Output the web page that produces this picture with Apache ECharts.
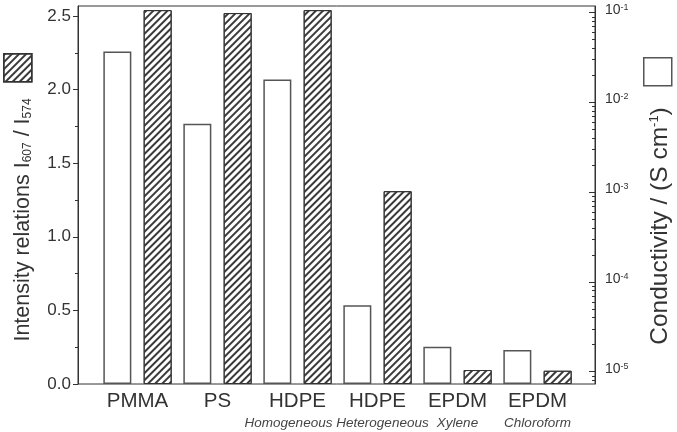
<!DOCTYPE html>
<html>
<head>
<meta charset="utf-8">
<script src="https://cdn.jsdelivr.net/npm/echarts@6/dist/echarts.min.js"></script>
<style>
  html, body { margin: 0; padding: 0; background: #fff; }
  #chart { width: 677px; height: 432px; }
</style>
</head>
<body>
<div id="chart"></div>
<script>
// samples on the x axis
const samples = ['PMMA', 'PS', 'HDPE', 'HDPE', 'EPDM', 'EPDM']
const sampleNotes = ['', '', 'Homogeneous', 'Heterogeneous', 'Xylene', 'Chloroform']
// hatched bars, left axis
const intensityRatio = [2.54, 2.52, 2.54, 1.31, 0.095, 0.09]
// white bars, right log axis (S/cm)
const conductivity = [3.7e-2, 5.8e-3, 1.8e-2, 5.5e-5, 1.9e-5, 1.75e-5]
// tick labels
const intensityTicks = [0, 0.5, 1.0, 1.5, 2.0, 2.5]
const intensityMinorTicks = [0.25, 0.75, 1.25, 1.75, 2.25]
const conductivityTicks = [1e-5, 1e-4, 1e-3, 1e-2, 1e-1]

const leftMax = 2.568
const logMin = Math.pow(10, -5.137)
const logMax = Math.pow(10, -0.925)
const logMinorTicks = []
conductivityTicks.concat([1e-6]).forEach(d => {
  for (let k = 2; k <= 9; k++) {
    const v = d * k
    if (v > logMin && v < logMax) logMinorTicks.push(v)
  }
})

const font = 'Liberation Sans, Arial, sans-serif'
const categories = samples.map((s, i) => s + ' ' + sampleNotes[i])
// the two middle notes are nudged apart like in the original
const noteStyle = ['b', 'b', 'bl', 'br', 'b', 'b']
const hatch = {
  color: '#3a3a3a',
  symbol: 'rect',
  symbolSize: 1,
  dashArrayX: [1, 0],
  dashArrayY: [1.3, 2.7],
  rotation: -Math.PI / 4
}

const chart = echarts.init(document.getElementById('chart'))

chart.setOption({
  animation: false,
  textStyle: { fontFamily: font },
  legend: [
    {
      data: ['Intensity'],
      left: 3,
      top: 53,
      padding: 0,
      icon: 'rect',
      itemWidth: 28,
      itemHeight: 28,
      selectedMode: false,
      formatter: () => '',
      itemStyle: { borderColor: '#333', borderWidth: 1.5 }
    },
    {
      data: ['Conductivity'],
      left: 643,
      top: 57,
      padding: 0,
      icon: 'rect',
      itemWidth: 28,
      itemHeight: 28,
      selectedMode: false,
      formatter: () => '',
      itemStyle: { borderColor: '#555', borderWidth: 1.5 }
    }
  ],
  grid: [
    {
      left: 78, right: 82, top: 6, bottom: 48,
      show: true, borderColor: '#333', borderWidth: 1,
      outerBoundsMode: 'none'
    },
    {
      left: 97.5, right: 99.5, top: 6, bottom: 48,
      outerBoundsMode: 'none'
    }
  ],
  xAxis: [
    { gridIndex: 0, type: 'value', min: 0, max: 1, show: false },
    {
      gridIndex: 1,
      type: 'category',
      data: categories,
      axisLine: { show: false },
      axisTick: { show: false },
      axisLabel: {
        margin: 6,
        interval: 0,
        formatter: (v, i) => '{a|' + samples[i] + '}\n{' + noteStyle[i] + '|' + sampleNotes[i] + '}',
        rich: {
          a: { fontSize: 20.5, color: '#333', lineHeight: 22, fontFamily: font },
          b: { fontSize: 13.5, fontStyle: 'italic', color: '#444', lineHeight: 22, fontFamily: font },
          bl: { fontSize: 13.5, fontStyle: 'italic', color: '#444', lineHeight: 22, fontFamily: font, padding: [0, 18, 0, 0] },
          br: { fontSize: 13.5, fontStyle: 'italic', color: '#444', lineHeight: 22, fontFamily: font, padding: [0, 0, 0, 10] }
        }
      }
    }
  ],
  yAxis: [
    {
      gridIndex: 0,
      type: 'value',
      position: 'left',
      min: 0,
      max: leftMax,
      splitLine: { show: false },
      axisLine: { show: true, lineStyle: { color: '#333' } },
      axisTick: { show: true, length: 5, customValues: intensityTicks, lineStyle: { color: '#333' } },
      axisLabel: {
        customValues: intensityTicks,
        formatter: v => v.toFixed(1),
        fontSize: 17,
        color: '#333',
        margin: 7
      },
      name: '{t|Intensity relations I}{s|607}{t| / I}{s|574}',
      nameLocation: 'middle',
      nameRotate: 90,
      nameGap: 44,
      nameTextStyle: {
        padding: [0, 50, 0, 0],
        rich: {
          t: { fontSize: 21.5, color: '#333', lineHeight: 28, verticalAlign: 'bottom', fontFamily: font },
          s: { fontSize: 12, color: '#333', lineHeight: 12, verticalAlign: 'bottom', fontFamily: font }
        }
      }
    },
    {
      gridIndex: 0,
      type: 'value',
      position: 'left',
      min: 0,
      max: leftMax,
      splitLine: { show: false },
      axisLine: { show: false },
      axisTick: { show: true, length: 3, customValues: intensityMinorTicks, lineStyle: { color: '#333' } },
      axisLabel: { show: false }
    },
    {
      gridIndex: 0,
      type: 'log',
      position: 'right',
      min: logMin,
      max: logMax,
      splitLine: { show: false },
      axisLine: { show: true, lineStyle: { color: '#333' } },
      axisTick: { show: true, inside: true, length: 6, customValues: conductivityTicks, lineStyle: { color: '#333' } },
      axisLabel: {
        customValues: conductivityTicks,
        formatter: v => '{n|10}{e|' + Math.round(Math.log10(v)) + '}',
        margin: 10,
        rich: {
          n: { fontSize: 14, color: '#333', lineHeight: 20, verticalAlign: 'top', fontFamily: font },
          e: { fontSize: 9, color: '#333', lineHeight: 10, verticalAlign: 'top', fontFamily: font }
        }
      },
      name: '{t|Conductivity / (S cm}{e|-1}{t|)}',
      nameLocation: 'middle',
      nameRotate: 90,
      nameGap: 53,
      nameTextStyle: {
        padding: [0, 62, 0, 0],
        rich: {
          t: { fontSize: 24.5, color: '#333', lineHeight: 30, verticalAlign: 'top', fontFamily: font },
          e: { fontSize: 13, color: '#333', lineHeight: 14, verticalAlign: 'top', fontFamily: font }
        }
      }
    },
    {
      gridIndex: 0,
      type: 'log',
      position: 'right',
      min: logMin,
      max: logMax,
      splitLine: { show: false },
      axisLine: { show: false },
      axisTick: { show: true, inside: true, length: 3, customValues: logMinorTicks, lineStyle: { color: '#333' } },
      axisLabel: { show: false }
    },
    { gridIndex: 1, type: 'value', min: 0, max: leftMax, show: false },
    { gridIndex: 1, type: 'log', min: logMin, max: logMax, startValue: logMin, show: false }
  ],
  series: [
    {
      name: 'Conductivity',
      type: 'bar',
      xAxisIndex: 1,
      yAxisIndex: 5,
      data: conductivity,
      barWidth: 28,
      barGap: '44%',
      itemStyle: { color: '#fff', borderColor: '#555', borderWidth: 1.5 }
    },
    {
      name: 'Intensity',
      type: 'bar',
      xAxisIndex: 1,
      yAxisIndex: 4,
      data: intensityRatio,
      barWidth: 28,
      barGap: '44%',
      itemStyle: { color: '#fff', borderColor: '#333', borderWidth: 1, decal: hatch }
    }
  ]
})
</script>
</body>
</html>
